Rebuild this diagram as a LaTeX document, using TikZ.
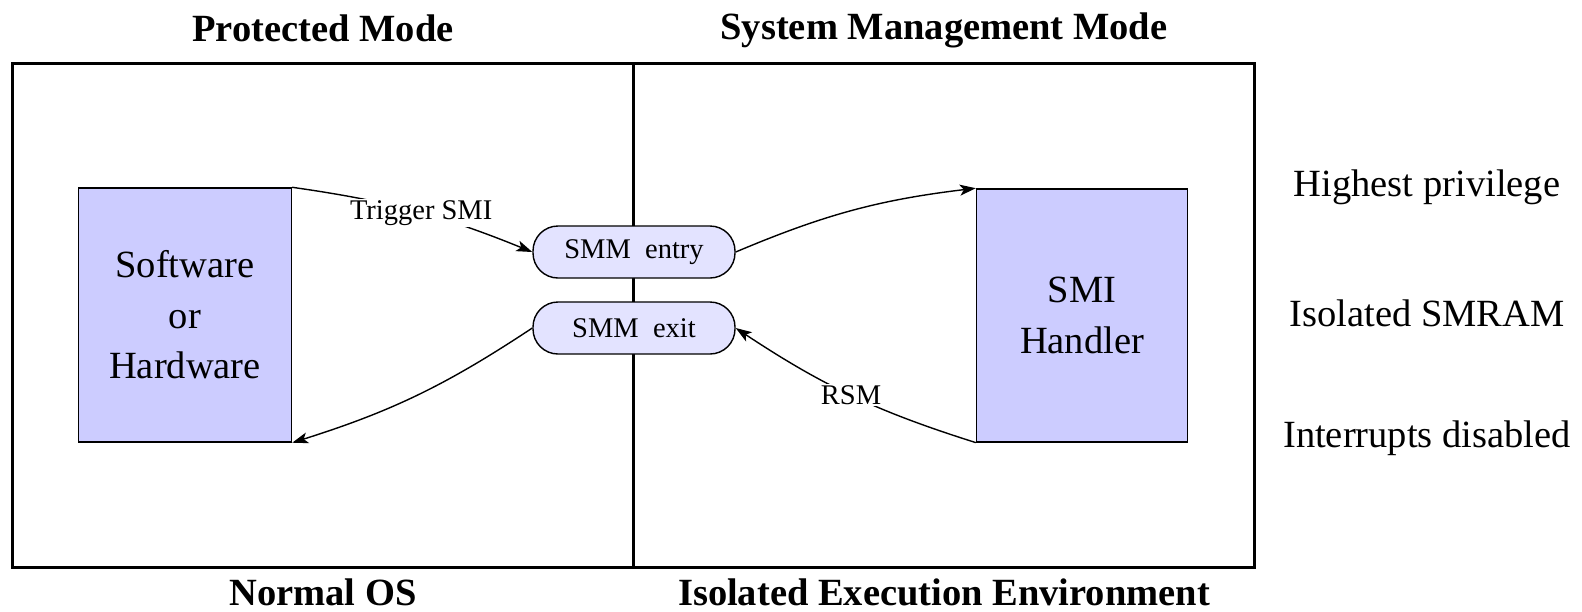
\documentclass[tikz,border=0pt]{standalone}
\usepackage{fontspec}
\setmainfont{Liberation Serif}
\usetikzlibrary{arrows.meta}
\begin{document}
\begin{tikzpicture}[x=1pt,y=-1pt,
  hdr/.style={font=\fontsize{38.5}{46}\selectfont\bfseries, inner sep=0},
  big/.style={font=\fontsize{38.5}{50.5}\selectfont, inner sep=0, align=center},
  blk/.style={draw=black, line width=1.4, fill=blue!20, inner sep=0,
              font=\fontsize{38.5}{50.5}\selectfont, align=center},
  pill/.style={draw=black, line width=1.4, fill=blue!11, rounded corners=25,
               minimum width=202, minimum height=52, inner sep=0,
               font=\fontsize{28.5}{34}\selectfont},
  lbl/.style={fill=white, inner sep=1.5, font=\fontsize{28.5}{34}\selectfont},
  arr/.style={line width=1.4, -{Stealth[length=16, width=11, inset=4]}},
  frame/.style={line width=3}
]
\useasboundingbox (0,0) rectangle (1582,611);

% mode headings and environment captions
\node[hdr] (pm)  at (323,28)  {Protected Mode};
\node[hdr] (smm) at (944,30)  {System Management Mode};
\node[hdr] (nos) at (323,592) {Normal OS};
\node[hdr] (iee) at (944,592) {Isolated Execution Environment};

% outer frame split into the two modes
\coordinate (ftl) at (12,63.5);
\coordinate (fbr) at (1254,567.5);
\coordinate (dtop) at (633,63.5);
\coordinate (dbot) at (633,567.5);
\draw[frame] (ftl) rectangle (fbr);
\draw[frame] (dtop) -- (dbot);

% main blocks
\node[blk, minimum width=213, minimum height=254] (sw)  at (185,315)  {Software\\or\\Hardware};
\node[blk, minimum width=211, minimum height=253] (smi) at (1082,315.4) {SMI\\Handler};

% transition pills on the boundary
\node[pill] (entry) at (634,252) {SMM\ \ entry};
\node[pill] (exit)  at (634,328) {SMM\ \ exit};

% transitions
\draw[arr] (sw.north east) to[bend left=7] node[lbl, pos=0.53] {Trigger SMI} (entry.west);
\draw[arr] (entry.east) to[bend left=8] (smi.north west);
\draw[arr] (smi.south west) to[bend left=8] node[lbl] {RSM} (exit.east);
\draw[arr] (exit.west) to[bend left=8] (sw.south east);

% SMM properties
\node[big] (hp) at (1427,187) {Highest privilege};
\node[big] (is) at (1427,313) {Isolated SMRAM};
\node[big] (id) at (1427,438) {Interrupts disabled};
\end{tikzpicture}
\end{document}
